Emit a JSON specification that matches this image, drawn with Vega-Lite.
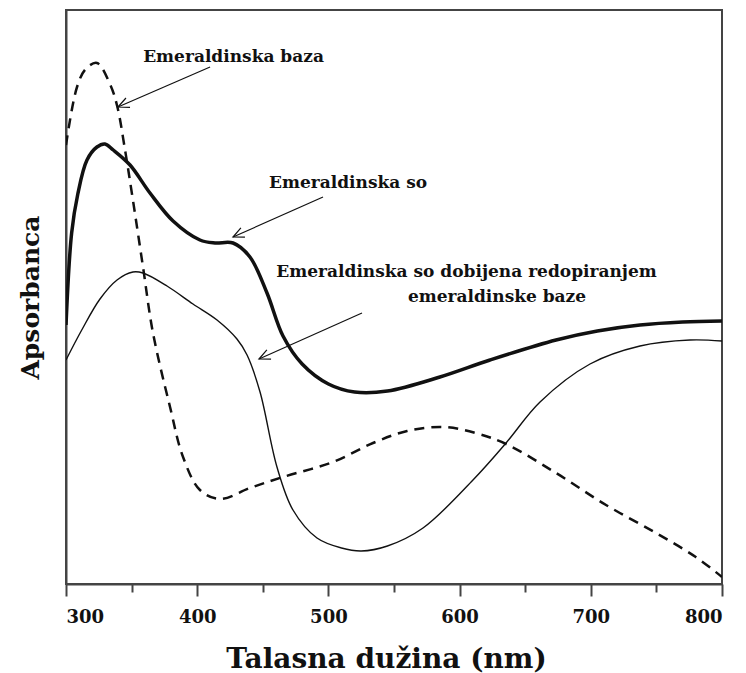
{
  "$schema": "https://vega.github.io/schema/vega-lite/v6.json",
  "width": 656,
  "height": 574,
  "autosize": {"type": "none"},
  "padding": {"left": 66, "top": 10, "right": 24, "bottom": 89},
  "background": "white",
  "config": {"view": {"stroke": "#444", "strokeWidth": 2}, "font": "DejaVu Serif"},
  "datasets": {
    "curves": [
      {"s": "baza", "nm": 300, "v": 439}, {"s": "baza", "nm": 308.4, "v": 497}, {"s": "baza", "nm": 315, "v": 515},
      {"s": "baza", "nm": 323.6, "v": 521}, {"s": "baza", "nm": 333.5, "v": 500}, {"s": "baza", "nm": 339, "v": 478},
      {"s": "baza", "nm": 345, "v": 434}, {"s": "baza", "nm": 351, "v": 384}, {"s": "baza", "nm": 358.7, "v": 317},
      {"s": "baza", "nm": 366.3, "v": 251}, {"s": "baza", "nm": 379.3, "v": 177}, {"s": "baza", "nm": 389.2, "v": 127},
      {"s": "baza", "nm": 402.1, "v": 94}, {"s": "baza", "nm": 417.4, "v": 85}, {"s": "baza", "nm": 440.2, "v": 96},
      {"s": "baza", "nm": 465.4, "v": 107}, {"s": "baza", "nm": 503.5, "v": 122}, {"s": "baza", "nm": 534, "v": 141},
      {"s": "baza", "nm": 560, "v": 153}, {"s": "baza", "nm": 587.3, "v": 157}, {"s": "baza", "nm": 612, "v": 151},
      {"s": "baza", "nm": 635.4, "v": 140}, {"s": "baza", "nm": 673.5, "v": 111}, {"s": "baza", "nm": 711.6, "v": 79},
      {"s": "baza", "nm": 749.7, "v": 51}, {"s": "baza", "nm": 780, "v": 27}, {"s": "baza", "nm": 800, "v": 7},
      {"s": "so", "nm": 300, "v": 259}, {"s": "so", "nm": 304.3, "v": 351}, {"s": "so", "nm": 309, "v": 390},
      {"s": "so", "nm": 316, "v": 424}, {"s": "so", "nm": 323.6, "v": 437}, {"s": "so", "nm": 329.7, "v": 440},
      {"s": "so", "nm": 336, "v": 434}, {"s": "so", "nm": 348.8, "v": 419}, {"s": "so", "nm": 364, "v": 391},
      {"s": "so", "nm": 381.6, "v": 363}, {"s": "so", "nm": 402.1, "v": 344}, {"s": "so", "nm": 413.6, "v": 341},
      {"s": "so", "nm": 427.3, "v": 341}, {"s": "so", "nm": 440.2, "v": 327}, {"s": "so", "nm": 453.2, "v": 291},
      {"s": "so", "nm": 465.4, "v": 248}, {"s": "so", "nm": 480, "v": 220}, {"s": "so", "nm": 500, "v": 200},
      {"s": "so", "nm": 520, "v": 192}, {"s": "so", "nm": 545, "v": 193}, {"s": "so", "nm": 585, "v": 207},
      {"s": "so", "nm": 623.2, "v": 224}, {"s": "so", "nm": 673.5, "v": 244}, {"s": "so", "nm": 705, "v": 253},
      {"s": "so", "nm": 737.5, "v": 259}, {"s": "so", "nm": 770, "v": 262}, {"s": "so", "nm": 800, "v": 263},
      {"s": "redop", "nm": 300, "v": 224}, {"s": "redop", "nm": 312, "v": 254}, {"s": "redop", "nm": 325.9, "v": 285},
      {"s": "redop", "nm": 338.9, "v": 304}, {"s": "redop", "nm": 351, "v": 312}, {"s": "redop", "nm": 358.7, "v": 311},
      {"s": "redop", "nm": 377, "v": 298}, {"s": "redop", "nm": 396.8, "v": 280}, {"s": "redop", "nm": 415.1, "v": 264},
      {"s": "redop", "nm": 430.3, "v": 245}, {"s": "redop", "nm": 438, "v": 229}, {"s": "redop", "nm": 447.9, "v": 192},
      {"s": "redop", "nm": 460.8, "v": 117}, {"s": "redop", "nm": 473, "v": 74}, {"s": "redop", "nm": 491.3, "v": 46},
      {"s": "redop", "nm": 510, "v": 36}, {"s": "redop", "nm": 525, "v": 33}, {"s": "redop", "nm": 545, "v": 38},
      {"s": "redop", "nm": 572.1, "v": 56}, {"s": "redop", "nm": 610.2, "v": 104}, {"s": "redop", "nm": 635.4, "v": 141},
      {"s": "redop", "nm": 661.3, "v": 182}, {"s": "redop", "nm": 699.4, "v": 220}, {"s": "redop", "nm": 737.5, "v": 238},
      {"s": "redop", "nm": 775.6, "v": 244}, {"s": "redop", "nm": 800, "v": 243}
    ],
    "arrows": [
      {"g": "a1s", "o": 1, "nm": 409.8, "v": 517}, {"g": "a1s", "o": 2, "nm": 339.6, "v": 477},
      {"g": "a1h", "o": 1, "nm": 348.8, "v": 476.7}, {"g": "a1h", "o": 2, "nm": 339.6, "v": 477}, {"g": "a1h", "o": 3, "nm": 345.7, "v": 486},
      {"g": "a2s", "o": 1, "nm": 495.9, "v": 387}, {"g": "a2s", "o": 2, "nm": 427.3, "v": 347},
      {"g": "a2h", "o": 1, "nm": 436.4, "v": 346.8}, {"g": "a2h", "o": 2, "nm": 427.3, "v": 347}, {"g": "a2h", "o": 3, "nm": 433.3, "v": 356.1},
      {"g": "a3s", "o": 1, "nm": 525.6, "v": 271}, {"g": "a3s", "o": 2, "nm": 447.1, "v": 225},
      {"g": "a3h", "o": 1, "nm": 456.3, "v": 224.8}, {"g": "a3h", "o": 2, "nm": 447.1, "v": 225}, {"g": "a3h", "o": 3, "nm": 453.1, "v": 234.1}
    ],
    "labels": [
      {"t": "Emeraldinska baza", "nm": 427.7, "v": 527},
      {"t": "Emeraldinska so", "nm": 515, "v": 401},
      {"t": "Emeraldinska so dobijena redopiranjem", "nm": 605.3, "v": 312},
      {"t": "emeraldinske baze", "nm": 628.5, "v": 287}
    ]
  },
  "layer": [
    {
      "encoding": {
        "x": {
          "field": "nm", "type": "quantitative", "scale": {"domain": [300, 800], "nice": false, "zero": false},
          "axis": {
            "title": "Talasna dužina (nm)",
            "orient": "bottom",
            "values": [300, 400, 500, 600, 700, 800],
            "format": "d",
            "tickSize": 12,
            "tickWidth": 2, "tickColor": "#444", "domainColor": "#444", "domainWidth": 2,
            "grid": false,
            "labelFont": "DejaVu Serif", "labelFontSize": 18, "labelFontWeight": "bold", "labelColor": "#111",
            "labelPadding": 12,
            "titleFont": "DejaVu Serif", "titleFontSize": 28, "titleFontWeight": "bold", "titleColor": "#111",
            "titlePadding": 19, "titleX": 320
          }
        },
        "y": {
          "field": "v", "type": "quantitative", "scale": {"domain": [0, 574], "nice": false, "zero": false},
          "axis": {
            "title": "Apsorbanca", "labels": false, "ticks": false, "grid": false,
            "domainColor": "#444", "domainWidth": 2,
            "titleFont": "DejaVu Serif", "titleFontSize": 25, "titleFontWeight": "bold", "titleColor": "#111",
            "titlePadding": 23
          }
        }
      },
      "layer": [
        {
          "data": {"name": "curves"},
          "transform": [{"filter": "datum.s == 'so'"}],
          "mark": {"type": "line", "color": "#111", "strokeWidth": 3.5, "interpolate": "catmull-rom", "clip": true}
        },
        {
          "data": {"name": "curves"},
          "transform": [{"filter": "datum.s == 'baza'"}],
          "mark": {"type": "line", "color": "#111", "strokeWidth": 2.5, "strokeDash": [10, 7], "interpolate": "catmull-rom", "clip": true}
        },
        {
          "data": {"name": "curves"},
          "transform": [{"filter": "datum.s == 'redop'"}],
          "mark": {"type": "line", "color": "#111", "strokeWidth": 1.4, "interpolate": "catmull-rom", "clip": true}
        },
        {
          "data": {"name": "arrows"},
          "mark": {"type": "line", "color": "#111", "strokeWidth": 1.2},
          "encoding": {
            "detail": {"field": "g"},
            "order": {"field": "o", "type": "quantitative"}
          }
        },
        {
          "data": {"name": "labels"},
          "mark": {"type": "text", "font": "DejaVu Serif", "fontWeight": "bold", "fontSize": 17, "color": "#111", "align": "center", "baseline": "middle"},
          "encoding": {
            "text": {"field": "t"}
          }
        }
      ]
    },
    {
      "data": {"name": "labels"},
      "mark": {"type": "point", "opacity": 0},
      "encoding": {
        "x": {
          "field": "nm", "type": "quantitative",
          "axis": {
            "orient": "bottom", "values": [350, 450, 550, 650, 750], "labels": false, "title": null,
            "domain": false, "grid": false, "tickSize": 8, "tickWidth": 2, "tickColor": "#444"
          }
        },
        "y": {"field": "v", "type": "quantitative", "axis": null}
      }
    }
  ],
  "resolve": {"axis": {"x": "independent", "y": "independent"}}
}
